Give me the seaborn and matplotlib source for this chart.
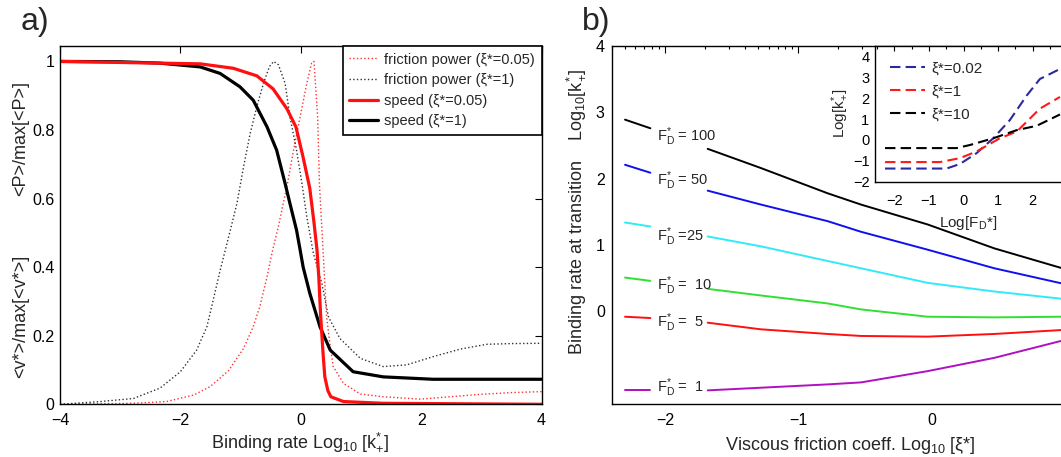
"""Two-panel figure: normalised speed / friction power, and transition binding rate."""
import numpy as np
import pandas as pd
import matplotlib
matplotlib.use('Agg')
import matplotlib.pyplot as plt
from matplotlib.ticker import FixedLocator, MultipleLocator
import seaborn as sns

# ---- panel a: normalised curves vs Log10[k+*] ----
fric005_x = [-4.0, -2.78, -2.23, -1.78, -1.51, -1.2, -0.95, -0.79, -0.68, -0.56, -0.48, -0.37,
             -0.22, -0.12, -0.01, 0.10, 0.18, 0.22, 0.28, 0.31, 0.37, 0.43, 0.49, 0.54, 0.71,
             0.99, 1.37, 1.98, 2.48, 2.98, 3.48, 4.0]
fric005_y = [0.0, 0.003, 0.008, 0.027, 0.051, 0.098, 0.163, 0.226, 0.285, 0.372, 0.44, 0.52,
             0.644, 0.741, 0.839, 0.936, 0.995, 1.0, 0.84, 0.645, 0.45, 0.255, 0.168, 0.11, 0.061,
             0.030, 0.022, 0.015, 0.022, 0.029, 0.034, 0.037]
fric1_x = [-4.0, -3.33, -2.78, -2.34, -2.0, -1.73, -1.56, -1.48, -1.34, -1.17, -1.06, -0.95,
           -0.84, -0.73, -0.62, -0.52, -0.45, -0.37, -0.26, -0.18, -0.07, 0.02, 0.10, 0.21,
           0.35, 0.46, 0.65, 0.99, 1.37, 1.76, 2.2, 2.65, 3.09, 3.48, 4.0]
fric1_y = [0.0, 0.008, 0.017, 0.047, 0.095, 0.158, 0.226, 0.285, 0.39, 0.508, 0.586, 0.693,
           0.79, 0.868, 0.936, 0.985, 1.0, 0.99, 0.936, 0.839, 0.741, 0.644, 0.547, 0.44,
           0.353, 0.255, 0.192, 0.134, 0.11, 0.115, 0.139, 0.161, 0.175, 0.177, 0.178]
speed005_x = [-4.0, -2.34, -1.67, -1.12, -0.73, -0.46, -0.23, -0.08, 0.04, 0.15, 0.22, 0.27,
              0.30, 0.33, 0.37, 0.40, 0.45, 0.50, 0.71, 1.37, 4.0]
speed005_y = [1.0, 0.995, 0.993, 0.98, 0.958, 0.92, 0.862, 0.809, 0.72, 0.63, 0.53, 0.45,
              0.37, 0.26, 0.15, 0.08, 0.04, 0.022, 0.008, 0.003, 0.0]
speed1_x = [-4.0, -3.0, -2.34, -1.67, -1.34, -1.01, -0.79, -0.56, -0.40, -0.26, -0.18, -0.07,
            -0.01, 0.04, 0.15, 0.32, 0.49, 0.87, 1.37, 2.2, 4.0]
speed1_y = [1.0, 0.999, 0.995, 0.984, 0.965, 0.926, 0.887, 0.809, 0.741, 0.644, 0.586, 0.508,
            0.45, 0.40, 0.324, 0.226, 0.158, 0.095, 0.080, 0.073, 0.073]

# ---- panel b: transition binding rate vs Log10[xi*], one line per F_D* ----
b_x_left = [-2.30, -2.11]
b_x_right = [-1.68, -1.28, -0.78, -0.53, -0.03, 0.47, 0.98]
b_forces = ['100', '50', '25', '10', '5', '1']
b_left = {
    '100': [2.89, 2.76], '50': [2.21, 2.09], '25': [1.34, 1.28],
    '10': [0.51, 0.46], '5': [-0.08, -0.10], '1': [-1.19, -1.19],
}
b_right = {
    '100': [2.45, 2.16, 1.78, 1.61, 1.31, 0.95, 0.65],
    '50': [1.82, 1.61, 1.36, 1.20, 0.93, 0.65, 0.42],
    '25': [1.13, 0.98, 0.76, 0.65, 0.43, 0.30, 0.19],
    '10': [0.34, 0.24, 0.12, 0.03, -0.08, -0.09, -0.08],
    '5': [-0.17, -0.27, -0.34, -0.37, -0.38, -0.34, -0.28],
    '1': [-1.19, -1.15, -1.10, -1.07, -0.90, -0.70, -0.44],
}
b_text = {'100': ' = 100', '50': ' = 50', '25': ' =25', '10': ' =  10', '5': ' =  5', '1': ' =  1'}
b_text_y = {'100': 2.64, '50': 1.97, '25': 1.13, '10': 0.38, '5': -0.17, '1': -1.15}
b_colors = {'100': 'black', '50': '#1010ee', '25': '#30eaf8', '10': '#30e030',
            '5': '#ff1010', '1': '#b010c0'}

# ---- inset: Log[k+*] vs Log[F_D*] ----
ins_x_002 = [-2.27, -0.49, -0.1, 0.38, 0.86, 1.34, 1.83, 2.21, 2.79]
ins_y_002 = [-1.37, -1.37, -1.15, -0.63, 0.08, 0.95, 2.13, 2.92, 3.40]
ins_x_1 = [-2.27, -0.68, -0.1, 0.38, 1.05, 1.54, 2.21, 2.79]
ins_y_1 = [-1.06, -1.06, -0.87, -0.55, 0.08, 0.40, 1.50, 2.06]
ins_x_10 = [-2.27, -0.2, 0.19, 0.86, 1.54, 2.12, 2.79]
ins_y_10 = [-0.39, -0.39, -0.24, 0.08, 0.47, 0.68, 1.22]

sns.set_style('white')
plt.rcParams['font.family'] = ['Liberation Sans', 'DejaVu Sans']
plt.rcParams['mathtext.fontset'] = 'custom'
plt.rcParams['mathtext.rm'] = 'Liberation Sans'
plt.rcParams['mathtext.default'] = 'regular'

W, H = 1061, 457
fig = plt.figure(figsize=(W / 100, H / 100), dpi=100)


def px_axes(left, top, right, bottom):
    return fig.add_axes([left / W, 1 - bottom / H, (right - left) / W, (bottom - top) / H])


def style_axes(ax, labelsize, right=True):
    for s in ax.spines.values():
        s.set_color('black')
        s.set_linewidth(1.0)
    ax.tick_params(which='both', direction='in', top=True, right=right, colors='black',
                   labelsize=labelsize, width=0.8)
    ax.tick_params(which='major', length=5)
    ax.tick_params(which='minor', length=2.5)
    ax.grid(False)


# ---------------- panel a ----------------
ax = px_axes(60, 46, 541.5, 404.3)
style_axes(ax, 11.5)
sns.lineplot(x=fric005_x, y=fric005_y, ax=ax, color='#ff3030', lw=1.0, ls=':',
             label='friction power (ξ*=0.05)')
sns.lineplot(x=fric1_x, y=fric1_y, ax=ax, color='#303030', lw=1.0, ls=':',
             label='friction power (ξ*=1)')
sns.lineplot(x=speed1_x, y=speed1_y, ax=ax, color='black', lw=2.3, label='speed (ξ*=1)')
sns.lineplot(x=speed005_x, y=speed005_y, ax=ax, color='#ff1010', lw=2.3,
             label='speed (ξ*=0.05)')
ax.set_xlim(-4, 4)
ax.set_ylim(0, 1.045)
ax.set_xticks([-4, -2, 0, 2, 4])
ax.set_yticks([0, 0.2, 0.4, 0.6, 0.8, 1.0])
ax.set_yticklabels(['0', '0.2', '0.4', '0.6', '0.8', '1'])
ax.tick_params(axis='x', pad=6)
ax.tick_params(axis='y', pad=4)
ax.set_xlabel('Binding rate Log$_{10}$ [k$_{+}^{*}$]', fontsize=13, labelpad=2)
handles, labels = ax.get_legend_handles_labels()
order = [0, 1, 3, 2]
leg = ax.legend([handles[i] for i in order], [labels[i] for i in order],
                loc='upper right', borderaxespad=0, fancybox=False, framealpha=1,
                edgecolor='black', fontsize=10.5, handlelength=2.0, handletextpad=0.4,
                labelspacing=0.45, borderpad=0.45)
leg.get_frame().set_linewidth(1.2)
fig.text(21 / W, 1 - 138 / H, '<P>/max[<P>]', rotation=90, ha='center', va='center',
         fontsize=13)
fig.text(21 / W, 1 - 316 / H, '<v*>/max[<v*>]', rotation=90, ha='center', va='center',
         fontsize=13)
fig.text(35 / W, 1 - 22 / H, 'a)', ha='center', va='center', fontsize=23)

# ---------------- panel b ----------------
bx = px_axes(611.7, 46, 1061, 404.3)
style_axes(bx, 11.5, right=False)
bx.spines['right'].set_visible(False)
rows = []
for f in b_forces:
    for xv, yv in zip(b_x_left, b_left[f]):
        rows.append((f, 'left', xv, yv))
    for xv, yv in zip(b_x_right, b_right[f]):
        rows.append((f, 'right', xv, yv))
bdf = pd.DataFrame(rows, columns=['F', 'seg', 'x', 'y'])
for f in b_forces:
    sns.lineplot(data=bdf[bdf['F'] == f], x='x', y='y', units='seg', estimator=None,
                 color=b_colors[f], lw=1.4, ax=bx)
    bx.text(-2.06, b_text_y[f], 'F$_{D}^{*}$' + b_text[f], fontsize=10.5,
            ha='left', va='center')
bx.set_xlim(-2.40, 0.97)
bx.set_ylim(-1.4, 4)
bx.set_xticks([-2, -1, 0])
minor = [d + np.log10(k) for d in (-3, -2, -1, 0) for k in range(2, 10)]
bx.xaxis.set_minor_locator(FixedLocator(minor))
bx.set_yticks([0, 1, 2, 3, 4])
bx.tick_params(axis='x', pad=6)
bx.tick_params(axis='y', pad=5)
bx.set_xlabel('Viscous friction coeff. Log$_{10}$ [ξ*]', fontsize=13, labelpad=2)
bx.xaxis.set_label_coords((850 - 611.7) / (1061 - 611.7), -0.085)
bx.set_ylabel('')
fig.text(576 / W, 1 - 211.7 / H,
         'Binding rate at transition    Log$_{10}$[k$_{+}^{*}$]',
         rotation=90, ha='center', va='center', fontsize=13)
fig.text(596 / W, 1 - 22 / H, 'b)', ha='center', va='center', fontsize=23)

# ---------------- inset ----------------
ix = px_axes(875, 46, 1061, 181.7)
ix.set_facecolor('white')
style_axes(ix, 10.5, right=False)
ix.spines['right'].set_visible(False)
sns.lineplot(x=ins_x_002, y=ins_y_002, ax=ix, color='#2a2a9e', lw=1.5, ls=(0, (5, 2.5)),
             label='ξ*=0.02')
sns.lineplot(x=ins_x_1, y=ins_y_1, ax=ix, color='#ff1a1a', lw=1.5, ls=(0, (5, 2.5)),
             label='ξ*=1')
sns.lineplot(x=ins_x_10, y=ins_y_10, ax=ix, color='black', lw=1.5, ls=(0, (5, 2.5)),
             label='ξ*=10')
ix.set_xlim(-2.56, 2.82)
ix.set_ylim(-2, 4.5)
ix.set_xticks([-2, -1, 0, 1, 2])
ix.xaxis.set_minor_locator(MultipleLocator(0.5))
ix.set_yticks([-2, -1, 0, 1, 2, 3, 4])
ix.tick_params(axis='x', pad=9)
ix.tick_params(axis='y', pad=4)
ix.tick_params(which='major', length=3.5)
ix.set_xlabel('Log[F$_{D}$*]', fontsize=11, labelpad=4)
ix.set_ylabel('Log[k$_{+}^{*}$]', fontsize=11, labelpad=2)
ix.legend(loc='upper left', frameon=False, fontsize=11, handlelength=2.3,
          handletextpad=0.4, labelspacing=0.6, borderaxespad=0.6, borderpad=0.4)

fig.savefig('out.png', dpi=100)
plt.close(fig)
